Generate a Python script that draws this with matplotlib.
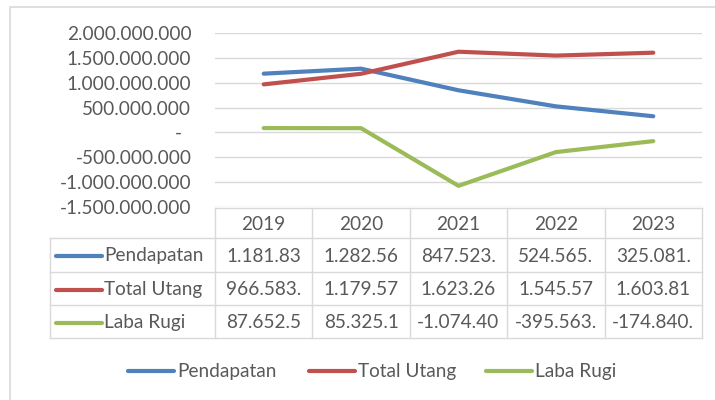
import matplotlib
matplotlib.use("Agg")
import matplotlib.pyplot as plt
from matplotlib.ticker import FuncFormatter, MultipleLocator

plt.rcParams["font.family"] = ["Lato", "DejaVu Sans"]

years = ["2019", "2020", "2021", "2022", "2023"]
series_names = ["Pendapatan", "Total Utang", "Laba Rugi"]
pendapatan = [1181830000, 1282560000, 847523000, 524565000, 325081000]
total_utang = [966583000, 1179570000, 1623260000, 1545570000, 1603810000]
laba_rugi = [87652500, 85325100, -1074400000, -395563000, -174840000]
series_colors = ["#4F81BD", "#C0504D", "#9BBB59"]

TEXT = "#595959"
GRID = "#D9D9D9"
FS = 13.7
W, H = 715, 400


def dotted(v):
    return f"{abs(int(v)):,}".replace(",", ".")


def axis_label(v, _pos):
    if abs(v) < 1:
        return "-  "
    return ("-" if v < 0 else "") + dotted(v)


def cell_label(v, width=8):
    # Excel cuts the number off when the cell is too narrow
    return ("-" if v < 0 else "") + dotted(v)[:width]


fig = plt.figure(figsize=(W / 100, H / 100), dpi=100)

# overlay in pixel coordinates for border, table and legend
over = fig.add_axes([0, 0, 1, 1])
over.set_xlim(0, W)
over.set_ylim(H, 0)
over.axis("off")

# plot area
left, right, top, bottom = 215, 702, 33, 207
ax = fig.add_axes([left / W, 1 - bottom / H, (right - left) / W, (bottom - top) / H])
all_values = [pendapatan, total_utang, laba_rugi]
x = list(range(len(years)))
for vals, color, name in zip(all_values, series_colors, series_names):
    ax.plot(x, vals, color=color, lw=3.0, solid_capstyle="round", label=name, zorder=3)

ax.set_xlim(-0.5, len(years) - 0.5)
ax.set_ylim(-1.5e9, 2.0e9)
ax.yaxis.set_major_locator(MultipleLocator(5e8))
ax.yaxis.set_major_formatter(FuncFormatter(axis_label))
ax.yaxis.grid(True, color=GRID, lw=1)
ax.set_xticks([])
ax.tick_params(axis="y", length=0, pad=17, labelsize=FS, labelcolor=TEXT)
for s in ax.spines.values():
    s.set_visible(False)

# chart border
over.plot([10, 10, W + 5], [H + 5, 7, 7], color=GRID, lw=1.2, zorder=1)

# data table
col_w = (right - left) / len(years)
row_edges = [208, 238, 272, 305, 338]
label_left = 50
kw = dict(color=GRID, lw=1)
over.plot([left, right], [row_edges[0]] * 2, **kw)
for y in row_edges[1:]:
    over.plot([label_left, right], [y, y], **kw)
for i in range(len(years) + 1):
    over.plot([left + i * col_w] * 2, [row_edges[0], row_edges[-1]], **kw)
over.plot([label_left] * 2, [row_edges[1], row_edges[-1]], **kw)

for i, yr in enumerate(years):
    over.text(left + (i + 0.5) * col_w, (row_edges[0] + row_edges[1]) / 2 + 1, yr,
              ha="center", va="center", fontsize=FS, color=TEXT)

for r, (name, vals, color) in enumerate(zip(series_names, all_values, series_colors)):
    yc = (row_edges[r + 1] + row_edges[r + 2]) / 2 + 1
    over.plot([56, 102], [yc, yc], color=color, lw=3.0, solid_capstyle="round")
    over.text(104, yc, name, ha="left", va="center", fontsize=FS, color=TEXT)
    for i, v in enumerate(vals):
        over.text(left + (i + 0.5) * col_w, yc, cell_label(v),
                  ha="center", va="center", fontsize=FS, color=TEXT)

# legend below the table
leg_y = 371
leg_x = [128, 309, 486]
for lx, name, color in zip(leg_x, series_names, series_colors):
    over.plot([lx, lx + 46], [leg_y, leg_y], color=color, lw=3.0, solid_capstyle="round")
    over.text(lx + 49, leg_y, name, ha="left", va="center", fontsize=FS, color=TEXT)

fig.savefig("out.png", dpi=100)
